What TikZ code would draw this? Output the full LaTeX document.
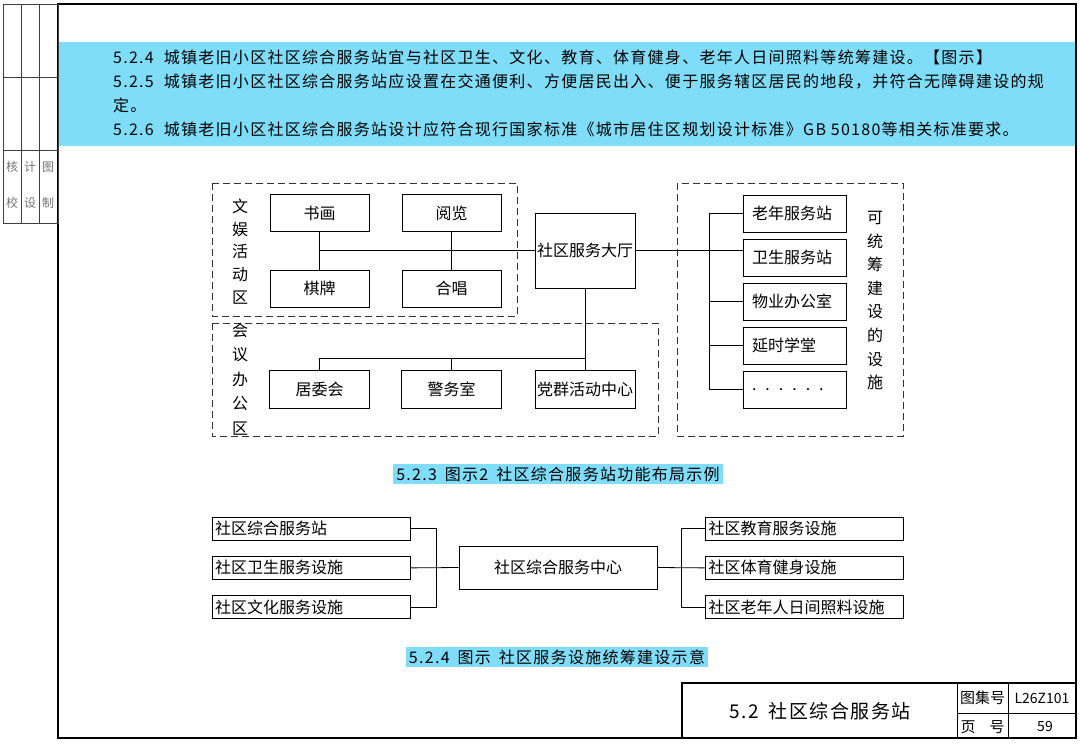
\documentclass[tikz,border=0pt]{standalone}
\usepackage{fontspec}
\newfontfamily\cjk[LetterSpace=8]{Noto Sans CJK SC}
\newfontfamily\cjkbox{Noto Sans CJK SC}
\usetikzlibrary{positioning,calc}
\definecolor{capblue}{RGB}{128,221,249}

\begin{document}
\begin{tikzpicture}[
  x=1pt, y=-1pt,
  font=\cjkbox\fontsize{16}{19}\selectfont,
  box/.style={draw, line width=0.9pt, minimum width=99pt, minimum height=37pt, inner sep=0pt},
  hallbox/.style={box, minimum width=100pt, minimum height=75pt},
  fac/.style={box, minimum width=103pt, text width=85pt, align=left, inner xsep=9pt},
  itembox/.style={draw, line width=0.9pt, minimum height=23pt, text width=192pt,
    align=left, inner xsep=3pt, inner ysep=0pt},
  zone/.style={draw=black!80, line width=0.8pt, dash pattern=on 7pt off 4pt},
  vlab/.style={align=center, inner sep=0pt},
  capnote/.style={fill=capblue, font=\cjk\fontsize{16}{19}\selectfont, inner xsep=3pt, inner ysep=3pt},
  hd/.style={anchor=base west, inner sep=0pt, font=\cjk\fontsize{16}{19}\selectfont},
  wire/.style={draw, line width=0.8pt},
  sig/.style={text=black!55, align=center, inner sep=0pt,
    font=\cjkbox\fontsize{12}{36}\selectfont}
]
\useasboundingbox (0,0) rectangle (1080,744);

% sheet: band, frame, side strip
\fill[capblue] (59,42) rectangle (1075,146);
\draw[line width=2.2pt] (58,4) rectangle (1076,738);
\draw[black!75, line width=0.8pt] (3,4) rectangle (58,223);
\draw[black!75, line width=0.8pt] (21,4) -- (21,223) (39,4) -- (39,223)
  (3,77) -- (58,77) (3,150) -- (58,150);
\node[sig] (jh) at (12,185) {核\\校};
\node[sig] (sj) at (30,185) {计\\设};
\node[sig] (zt) at (48,185) {图\\制};

% clauses
\node[hd] (p524) at (113,63) {5.2.4\hspace{10pt}城镇老旧小区社区综合服务站宜与社区卫生、文化、教育、体育健身、老年人日间照料等统筹建设。【图示】};
\node[hd] (p525) at (113,87) {5.2.5\hspace{10pt}城镇老旧小区社区综合服务站应设置在交通便利、方便居民出入、便于服务辖区居民的地段，并符合无障碍建设的规};
\node[hd] (p525b) at (113,111) {定。};
\node[hd] (p526) at (113,135) {5.2.6\hspace{10pt}城镇老旧小区社区综合服务站设计应符合现行国家标准《城市居住区规划设计标准》GB 50180等相关标准要求。};

% figure 5.2.3
\draw[zone] (212,183) rectangle (517,316);
\draw[zone] (212,323) rectangle (658,436);
\draw[zone] (677,183) rectangle (903,436);

\node[vlab, font=\cjkbox\fontsize{16}{22.7}\selectfont] (wylab) at (240,251.5) {文\\娱\\活\\动\\区};
\node[vlab, font=\cjkbox\fontsize{16}{24.5}\selectfont] (hylab) at (240,379) {会\\议\\办\\公\\区};
\node[vlab, font=\cjkbox\fontsize{16}{23.6}\selectfont] (tclab) at (875,300.5) {可\\统\\筹\\建\\设\\的\\设\\施};

\node[box] (shuhua) at (319.5,213) {书画};
\node[box] (yuelan) at (451.5,213) {阅览};
\node[box] (qipai) at (319.5,288.5) {棋牌};
\node[box] (hechang) at (451.5,288.5) {合唱};
\node[hallbox] (hall) at (585,250.5) {社区服务大厅};
\node[box, minimum width=100pt, minimum height=38pt] (juwei) at (319.5,389) {居委会};
\node[box, minimum width=100pt, minimum height=38pt] (jingwu) at (451.5,389) {警务室};
\node[box, minimum width=100pt, minimum height=38pt] (dangqun) at (585,389) {党群活动中心};

\node[fac] (lnfw) at (794.5,213.5) {老年服务站};
\node[fac, below=6.1pt of lnfw] (wsfw) {卫生服务站};
\node[fac, below=6.1pt of wsfw] (wyb) {物业办公室};
\node[fac, below=6.1pt of wyb] (yssx) {延时学堂};
\node[fac, below=6.1pt of yssx] (more) {.\hspace{9pt}.\hspace{9pt}.\hspace{9pt}.\hspace{9pt}.\hspace{9pt}.};

\coordinate (rbus) at (709,0);
\coordinate (bbus) at (0,358);

\draw[wire] (shuhua.south) -- (qipai.north);
\draw[wire] (yuelan.south) -- (hechang.north);
\draw[wire] (hall.west) -- (hall.west -| shuhua.south);
\draw[wire] (hall.east) -- (hall.east -| wsfw.west);
\draw[wire] (lnfw.west) -- (lnfw.west -| rbus) -- (more.west -| rbus) -- (more.west);
\foreach \b in {wyb, yssx}
  \draw[wire] (\b.west) -- (\b.west -| rbus);
\draw[wire] (hall.south) -- (dangqun.north);
\draw[wire] (juwei.north) -- (juwei.north |- bbus) -- (dangqun.north |- bbus);
\draw[wire] (jingwu.north) -- (jingwu.north |- bbus);

\node[capnote] (cap1) at (558,474) {5.2.3\hspace{8pt}图示2\hspace{8pt}社区综合服务站功能布局示例};

% figure 5.2.4
\node[itembox] (zhfw) at (311,528.5) {社区综合服务站};
\node[itembox, below=15.5pt of zhfw] (wsss) {社区卫生服务设施};
\node[itembox, below=15.5pt of wsss] (whss) {社区文化服务设施};
\node[box, minimum width=198pt, minimum height=43pt] (zxin) at (558,567.5) {社区综合服务中心};
\node[itembox] (jyss) at (804.5,528.5) {社区教育服务设施};
\node[itembox, below=15.5pt of jyss] (tyss) {社区体育健身设施};
\node[itembox, below=15.5pt of tyss] (lnss) {社区老年人日间照料设施};

\coordinate (lj) at (436,0);
\coordinate (rj) at (681,0);
\draw[wire] (zhfw.east) -- (zhfw.east -| lj) -- (whss.east -| lj) -- (whss.east);
\draw[wire] (wsss.east) -- (zxin.west);
\draw[wire] (jyss.west) -- (jyss.west -| rj) -- (lnss.west -| rj) -- (lnss.west);
\draw[wire] (zxin.east) -- (tyss.west);

\node[capnote] (cap2) at (557,657) {5.2.4\hspace{8pt}图示\hspace{8pt}社区服务设施统筹建设示意};

% title block
\draw[line width=1.6pt] (682,683) rectangle (1076,738);
\draw[line width=0.8pt] (957,683) -- (957,738) (1008,683) -- (1008,738) (957,713) -- (1076,713);
\node[font=\cjk\fontsize{19}{22}\selectfont] (ttl) at (820,711) {5.2\hspace{10pt}社区综合服务站};
\node[font=\cjkbox\fontsize{15}{18}\selectfont] (tjh) at (982.5,698) {图集号};
\node[font=\cjkbox\fontsize{14}{17}\selectfont] (tjv) at (1042,698) {L26Z101};
\node[font=\cjkbox\fontsize{15}{18}\selectfont] (yh) at (982.5,727) {页\hspace{14pt}号};
\node[font=\cjkbox\fontsize{14}{17}\selectfont] (yv) at (1045,727) {59};
\end{tikzpicture}
\end{document}
